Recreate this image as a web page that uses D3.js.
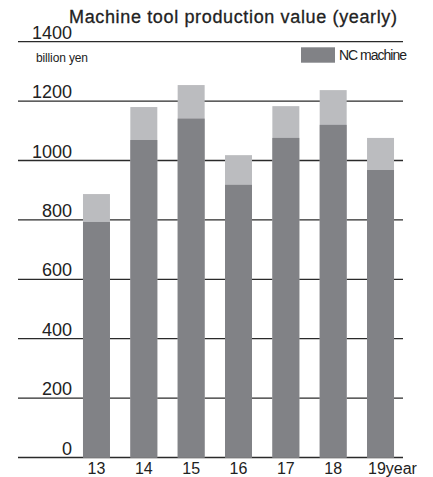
<!DOCTYPE html>
<html>
<head>
<meta charset="utf-8">
<script src="https://cdn.jsdelivr.net/npm/d3@7"></script>
<style>
  body { margin: 0; background: #fff; }
  svg { display: block; font-family: "Liberation Sans", Arial, sans-serif; }
</style>
</head>
<body>
<div id="chart"></div>
<script>
// yearly values, billion yen
const years = ["13", "14", "15", "16", "17", "18", "19"];
const ncValues = [793, 1069, 1141, 918, 1076, 1120, 968];
const totalValues = [887, 1180, 1254, 1018, 1183, 1237, 1076];
const yTicks = [0, 200, 400, 600, 800, 1000, 1200, 1400];

const width = 433, height = 477;

const svg = d3.select("#chart").append("svg")
    .attr("width", width)
    .attr("height", height);

const y = d3.scaleLinear()
    .domain([0, 1400])
    .range([457.5, 41.7]);

const x = d3.scaleBand()
    .domain(years)
    .range([72.8, 404.2])
    .paddingInner(0.43)
    .paddingOuter(0.215);

// gridlines (behind bars)
svg.append("g").selectAll("line")
    .data(yTicks)
    .join("line")
    .attr("x1", 18)
    .attr("x2", 403)
    .attr("y1", d => y(d))
    .attr("y2", d => y(d))
    .attr("stroke", "#2a2a2a")
    .attr("stroke-width", 1.3);

// tick labels
svg.append("g").selectAll("text")
    .data(yTicks)
    .join("text")
    .attr("x", 72)
    .attr("y", d => y(d) - 3)
    .attr("text-anchor", "end")
    .attr("font-size", 18)
    .attr("fill", "#222")
    .text(d => d);

// total (light) bars, then NC part on top
svg.append("g").selectAll("rect")
    .data(years)
    .join("rect")
    .attr("x", d => x(d))
    .attr("width", x.bandwidth())
    .attr("y", (d, i) => y(totalValues[i]))
    .attr("height", (d, i) => y(0) - y(totalValues[i]))
    .attr("fill", "#bbbcbf");

svg.append("g").selectAll("rect")
    .data(years)
    .join("rect")
    .attr("x", d => x(d))
    .attr("width", x.bandwidth())
    .attr("y", (d, i) => y(ncValues[i]))
    .attr("height", (d, i) => y(0) - y(ncValues[i]))
    .attr("fill", "#818286");

// x labels (last one carries the unit)
svg.append("g").selectAll("text")
    .data(years)
    .join("text")
    .attr("x", d => x(d) + x.bandwidth() / 2)
    .attr("y", 474)
    .attr("text-anchor", d => d === "19" ? "start" : "middle")
    .attr("dx", d => d === "19" ? -12.5 : 0)
    .attr("font-size", 16)
    .attr("fill", "#222")
    .text(d => d === "19" ? d + "year" : d);

// title
svg.append("text")
    .attr("x", 69)
    .attr("y", 22.5)
    .attr("font-size", 18)
    .attr("fill", "#222")
    .attr("stroke", "#222")
    .attr("stroke-width", 0.3)
    .attr("textLength", 328)
    .text("Machine tool production value (yearly)");

// unit
svg.append("text")
    .attr("x", 36)
    .attr("y", 62)
    .attr("font-size", 12)
    .attr("fill", "#222")
    .attr("textLength", 52)
    .text("billion yen");

// legend
svg.append("rect")
    .attr("x", 301)
    .attr("y", 47.3)
    .attr("width", 34)
    .attr("height", 15.4)
    .attr("fill", "#818286");

svg.append("text")
    .attr("x", 339)
    .attr("y", 60)
    .attr("font-size", 14)
    .attr("fill", "#222")
    .attr("textLength", 68)
    .text("NC machine");
</script>
</body>
</html>
